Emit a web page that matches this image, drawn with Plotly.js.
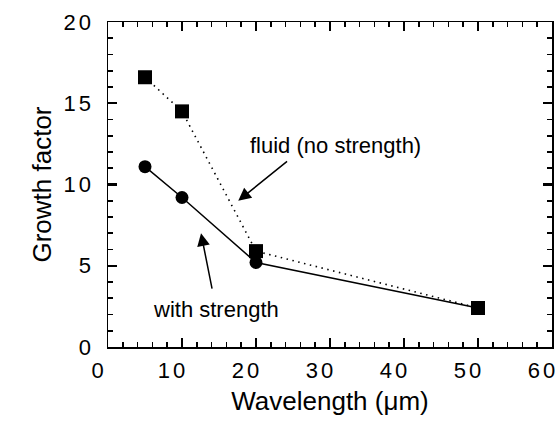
<!DOCTYPE html>
<html>
<head>
<meta charset="utf-8">
<script src="https://cdn.plot.ly/plotly-3.0.1.min.js"></script>
<style>
html,body{margin:0;padding:0;background:#fff;}
#chart{width:557px;height:426px;}
.xtick text,.ytick text{letter-spacing:3px;}
</style>
</head>
<body>
<div id="chart"></div>
<script>
const wavelengths = [5, 10, 20, 50];
const fluidGrowth = [16.6, 14.5, 5.9, 2.4];
const strengthGrowth = [11.1, 9.2, 5.2, 2.4];
const xTickVals = [0, 10, 20, 30, 40, 50, 60];
const yTickVals = [0, 5, 10, 15, 20];
const xRange = [xTickVals[0], xTickVals[xTickVals.length - 1]];
const yRange = [yTickVals[0], yTickVals[yTickVals.length - 1]];
const xStep = xTickVals[1] - xTickVals[0];
const yStep = yTickVals[1] - yTickVals[0];

const FF = 'Liberation Sans, Arial, Helvetica, sans-serif';

const traces = [
  {
    x: wavelengths, y: strengthGrowth, type: 'scatter', mode: 'lines+markers',
    name: 'with strength',
    line: {color: '#000', width: 1.5},
    marker: {symbol: 'circle', size: 13, color: '#000'}
  },
  {
    x: wavelengths, y: fluidGrowth, type: 'scatter', mode: 'lines+markers',
    name: 'fluid (no strength)',
    line: {color: '#000', width: 1.6, dash: '1.5px,4.5px'},
    marker: {symbol: 'square', size: 14, color: '#000'}
  }
];

function axisBase(range, step, minorStep) {
  return {
    range: range, autorange: false, tickmode: 'linear', tick0: range[0], dtick: step,
    ticks: 'inside', ticklen: 9, tickwidth: 2.2, tickcolor: '#000',
    minor: {dtick: minorStep, ticks: 'inside', ticklen: 5, tickwidth: 1.6, tickcolor: '#000', showgrid: false},
    showgrid: false, zeroline: false,
    showline: true, linecolor: '#000', linewidth: 1.5, mirror: 'allticks'
  };
}

const arrowFont = {size: 1, color: '#000'};

const layout = {
  width: 557, height: 426,
  margin: {l: 108, r: 5, t: 22, b: 79},
  paper_bgcolor: '#fff', plot_bgcolor: '#fff',
  showlegend: false,
  font: {family: FF, color: '#000'},
  xaxis: Object.assign(axisBase(xRange, xStep, 2), {
    tickfont: {size: 22, family: FF, color: '#000'},
    ticklabelshift: -9, ticklabelstandoff: 3, ticklabeloverflow: 'allow',
    title: {text: 'Wavelength (μm)', font: {size: 26, family: FF, color: '#000'}, standoff: 10}
  }),
  yaxis: Object.assign(axisBase(yRange, yStep, 1), {
    tickfont: {size: 22, family: FF, color: '#000'},
    ticklabelstandoff: 8, ticklabeloverflow: 'allow',
    title: {text: 'Growth factor', font: {size: 26, family: FF, color: '#000'}, standoff: 4}
  }),
  annotations: [
    {
      x: 17.6, y: 9.0, xref: 'x', yref: 'y',
      ax: 24.4, ay: 11.5, axref: 'x', ayref: 'y',
      text: '', font: arrowFont, showarrow: true,
      arrowhead: 2, arrowsize: 1.7, arrowwidth: 1.5, arrowcolor: '#000'
    },
    {
      x: 30.7, y: 12.4, xref: 'x', yref: 'y', xanchor: 'center', yanchor: 'middle',
      text: 'fluid (no strength)', showarrow: false,
      font: {size: 22, family: FF, color: '#000'}
    },
    {
      x: 12.57, y: 7.0, xref: 'x', yref: 'y',
      ax: 14.1, ay: 3.5, axref: 'x', ayref: 'y',
      text: '', font: arrowFont, showarrow: true,
      arrowhead: 2, arrowsize: 1.7, arrowwidth: 1.5, arrowcolor: '#000'
    },
    {
      x: 14.6, y: 2.3, xref: 'x', yref: 'y', xanchor: 'center', yanchor: 'middle',
      text: 'with strength', showarrow: false,
      font: {size: 22, family: FF, color: '#000'}
    }
  ]
};

Plotly.newPlot('chart', traces, layout, {staticPlot: true, displayModeBar: false});
</script>
</body>
</html>
